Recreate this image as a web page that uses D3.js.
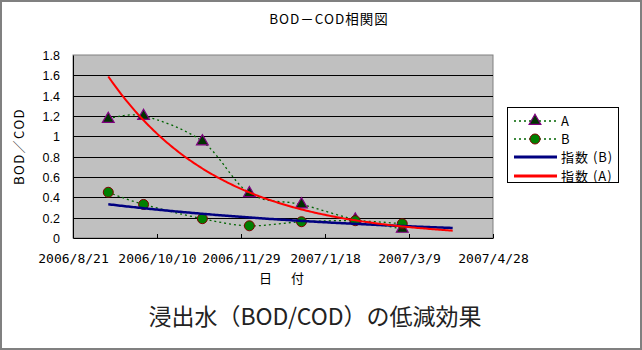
<!DOCTYPE html>
<html><head><meta charset="utf-8">
<script src="https://cdn.jsdelivr.net/npm/d3@7"></script>
<style>body{margin:0;background:#fff}svg{display:block}</style>
</head><body><svg id="c" width="642" height="350"></svg>
<script>
// ---- data ----
const dates = ["2006/9/11","2006/10/2","2006/11/6","2006/12/4","2007/1/4","2007/2/5","2007/3/5"];
const seriesA = [1.17, 1.20, 0.95, 0.44, 0.33, 0.18, 0.09];
const seriesB = [0.45, 0.33, 0.19, 0.12, 0.16, 0.17, 0.14];
const xTickLabels = ["2006/8/21","2006/10/10","2006/11/29","2007/1/18","2007/3/9","2007/4/28"];
const yTickValues = [0, 0.2, 0.4, 0.6, 0.8, 1, 1.2, 1.4, 1.6, 1.8];
const legendLabels = ["A", "B", "指数 (B)", "指数 (A)"];
const titleText = "BOD－COD相関図";
const yTitle = "BOD／COD";
const xTitle = "日　付";
const caption = "浸出水（BOD/COD）の低減効果";
const trendForwardDays = 30;

// ---- layout ----
const W = 642, H = 350;
const P = {left: 73, right: 493, top: 55, bottom: 238};
const parse = d3.utcParse("%Y/%m/%d");
const DAY = 864e5;

const svg = d3.select("#c");
svg.append("rect").attr("x",1).attr("y",1).attr("width",W-2).attr("height",H-2)
  .attr("fill","#fff").attr("stroke","#808080").attr("stroke-width",2);

const xTicks = xTickLabels.map(parse);
const x = d3.scaleUtc().domain([xTicks[0], xTicks[xTicks.length-1]]).range([P.left, P.right]);
const y = d3.scaleLinear().domain([0, 1.8]).range([P.bottom, P.top]);

// plot background
svg.append("rect").attr("x",P.left).attr("y",P.top)
  .attr("width",P.right-P.left).attr("height",P.bottom-P.top)
  .attr("fill","#C0C0C0").attr("stroke","#808080").attr("stroke-width",1);

// gridlines
svg.append("g").selectAll("line").data(yTickValues.filter(v => v > 0 && v < 1.8)).join("line")
  .attr("x1",P.left).attr("x2",P.right)
  .attr("y1",d => Math.round(y(d))+0.5).attr("y2",d => Math.round(y(d))+0.5)
  .attr("stroke","#000").attr("stroke-width",1);

// axes
const xAxis = svg.append("g").attr("transform",`translate(0,${P.bottom})`)
  .call(d3.axisBottom(x).tickValues(xTicks).tickSizeInner(-4).tickSizeOuter(0)
    .tickFormat((d,i) => xTickLabels[i]));
xAxis.select(".domain").attr("stroke","#000");
xAxis.selectAll(".tick line").attr("stroke","#000");
xAxis.selectAll(".tick text").attr("y",20).attr("dy","0.35em")
  .attr("font-family","'DejaVu Sans Mono', monospace").attr("font-size",13).attr("fill","#000");

const yAxis = svg.append("g").attr("transform",`translate(${P.left},0)`)
  .call(d3.axisLeft(y).tickValues(yTickValues).tickSize(0)
    .tickFormat(d => String(+d.toFixed(1))));
yAxis.select(".domain").attr("stroke","#000");
yAxis.selectAll(".tick text").attr("x",-13).attr("dy","0.35em")
  .attr("font-family","'Liberation Sans', Arial, sans-serif").attr("font-size",12.5).attr("fill","#000");

// series
const dA = dates.map((d,i) => ({t: parse(d), v: seriesA[i]}));
const dB = dates.map((d,i) => ({t: parse(d), v: seriesB[i]}));

const smooth = d3.line().x(d => x(d.t)).y(d => y(d.v)).curve(d3.curveCatmullRom.alpha(0));
[dA, dB].forEach(data => {
  svg.append("path").attr("d", smooth(data)).attr("fill","none")
    .attr("stroke","#006400").attr("stroke-width",1.3).attr("stroke-dasharray","2,3");
});

const tri = d3.symbol().type(d3.symbolTriangle).size(60);
function drawTri(g, cx, cy){
  g.append("path").attr("d", tri()).attr("transform",`translate(${cx},${cy})`)
    .attr("fill","#003300").attr("stroke","#800080").attr("stroke-width",1.2);
}
function drawCirc(g, cx, cy){
  g.append("circle").attr("cx",cx).attr("cy",cy).attr("r",5)
    .attr("fill","#008000").attr("stroke","#800000").attr("stroke-width",1);
}
const mk = svg.append("g");
dA.forEach(d => drawTri(mk, x(d.t), y(d.v)));
dB.forEach(d => drawCirc(mk, x(d.t), y(d.v)));

// exponential trendlines (least squares on ln y, like Excel)
function expFit(data){
  const ts = data.map(d => d.t.getTime()/DAY), ls = data.map(d => Math.log(d.v));
  const mt = d3.mean(ts), ml = d3.mean(ls);
  const b = d3.sum(ts, (t,i) => (t-mt)*(ls[i]-ml)) / d3.sum(ts, t => (t-mt)*(t-mt));
  const t0 = ts[0], t1 = ts[ts.length-1] + trendForwardDays;
  const pts = d3.range(t0, t1 + 0.5, 1).map(t => ({t: new Date(t*DAY), v: Math.exp(ml + b*(t-mt))}));
  return pts;
}
const lin = d3.line().x(d => x(d.t)).y(d => y(d.v));
svg.append("path").attr("d", lin(expFit(dB))).attr("fill","none").attr("stroke","#000080").attr("stroke-width",2.5);
svg.append("path").attr("d", lin(expFit(dA))).attr("fill","none").attr("stroke","#FF0000").attr("stroke-width",2);

// titles
const cjk = "'Noto Sans CJK JP', sans-serif";
svg.append("text").attr("x",329).attr("y",19).attr("text-anchor","middle").attr("dy","0.35em")
  .attr("font-family",cjk).attr("font-size",13.5).attr("letter-spacing",1).attr("fill","#000").text(titleText);
svg.append("text").attr("transform",`translate(19,${(P.top+P.bottom)/2}) rotate(-90)`)
  .attr("text-anchor","middle").attr("dy","0.35em")
  .attr("font-family",cjk).attr("font-size",13).attr("letter-spacing",1.5).attr("fill","#000").text(yTitle);
svg.append("text").attr("x",(P.left+P.right)/2).attr("y",278).attr("text-anchor","middle").attr("dy","0.35em")
  .attr("font-family",cjk).attr("font-size",13).attr("letter-spacing",3).attr("fill","#000").text(xTitle);
svg.append("text").attr("x",315).attr("y",317).attr("text-anchor","middle").attr("dy","0.35em")
  .attr("font-family",cjk).attr("font-size",23).attr("fill","#222").text(caption);

// legend
const lg = svg.append("g");
lg.append("rect").attr("x",507.5).attr("y",107.5).attr("width",111).attr("height",75)
  .attr("fill","#fff").attr("stroke","#000").attr("stroke-width",1);
const ly = [121, 139, 157, 176];
const lx0 = 514, lx1 = 557;
legendLabels.forEach((lab, i) => {
  const yy = ly[i];
  if (i < 2) {
    lg.append("line").attr("x1",lx0).attr("x2",lx1).attr("y1",yy).attr("y2",yy)
      .attr("stroke","#006400").attr("stroke-width",1.3).attr("stroke-dasharray","2,3");
    if (i === 0) drawTri(lg, 535, yy); else drawCirc(lg, 535, yy);
  } else {
    lg.append("line").attr("x1",lx0).attr("x2",lx1).attr("y1",yy).attr("y2",yy)
      .attr("stroke", i === 2 ? "#000080" : "#FF0000").attr("stroke-width",3);
  }
  lg.append("text").attr("x",561).attr("y",yy).attr("dy","0.35em")
    .attr("font-family",cjk).attr("font-size",13).attr("letter-spacing",1).attr("fill","#000").text(lab);
});
</script></body></html>
